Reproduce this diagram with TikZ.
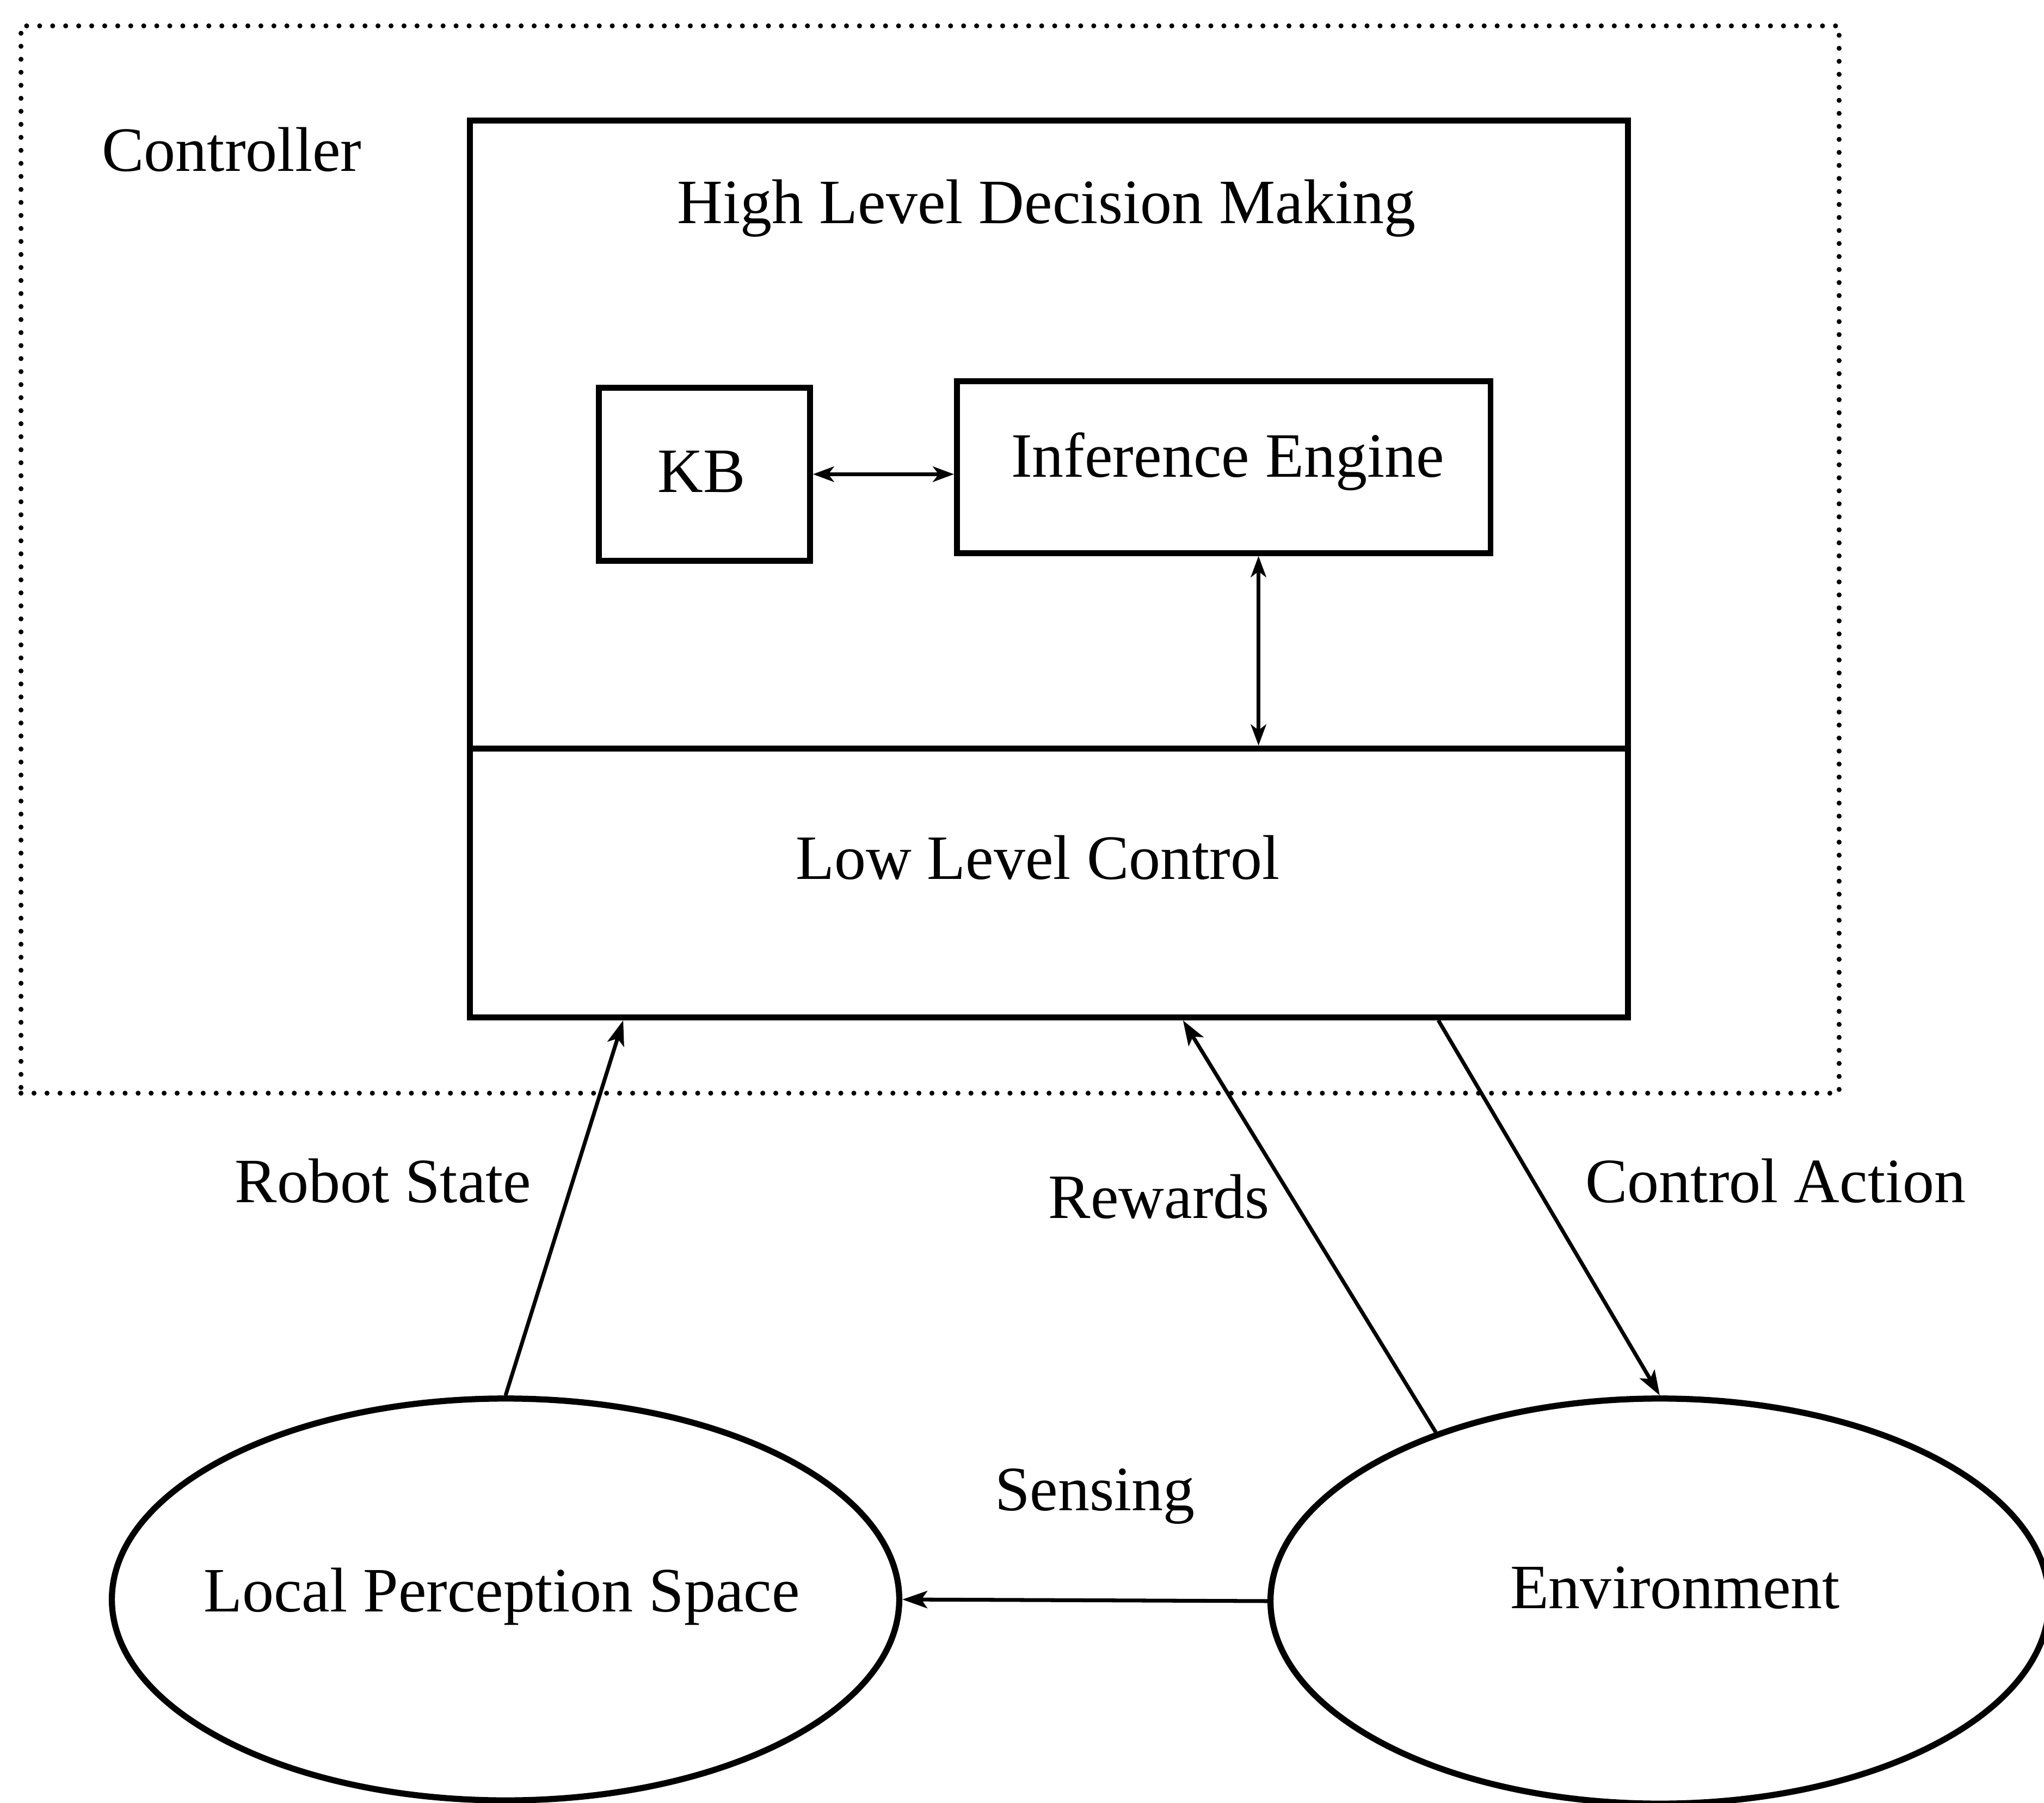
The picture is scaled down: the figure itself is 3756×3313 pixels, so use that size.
\documentclass[tikz,border=0pt]{standalone}
\usepackage{fontspec}
\setmainfont{Liberation Serif}
\usetikzlibrary{arrows.meta,shapes.geometric}
\begin{document}
\begin{tikzpicture}[x=0.01cm,y=-0.01cm,
  every node/.style={font=\fontsize{33}{40}\selectfont, inner sep=0pt},
  boxnode/.style={draw, line width=3pt, rectangle},
  ellnode/.style={draw, line width=3.2pt, ellipse},
  conn/.style={line width=2pt, -{Stealth[length=13pt,width=9pt,inset=3pt]}},
  bconn/.style={line width=2pt, {Stealth[length=11pt,width=8pt,inset=3pt]}-{Stealth[length=11pt,width=8pt,inset=3pt]}},
  dotborder/.style={draw, line width=2.6pt, line cap=round, dash pattern=on 0pt off 6.8pt}
]
\useasboundingbox (0,0) rectangle (3756,3313);
\fill[white] (0,0) rectangle (3756,3313);
% outer dotted controller border
\node[dotborder, minimum width=33.39cm, minimum height=19.6cm, anchor=north west] (ctrl) at (34,43) {};
\node (ctrltxt) at (426,275) {Controller};
% main boxes
\node[boxnode, minimum width=21.27cm, minimum height=11.54cm, anchor=north west] (hld) at (858,216) {};
\node[boxnode, minimum width=21.27cm, minimum height=4.94cm, anchor=north west] (llc) at (858,1370) {};
\node (hldtxt) at (1923,383) {High Level Decision Making};
\node (llctxt) at (1907,1576) {Low Level Control};
% inner boxes
\node[boxnode, minimum width=3.88cm, minimum height=3.18cm, anchor=north west] (kb) at (1095,707) {};
\node (kbtxt) at (1289,867) {KB};
\node[boxnode, minimum width=9.8cm, minimum height=3.16cm, anchor=north west] (ie) at (1753,695) {};
\node (ietxt) at (2256,848) {Inference Engine};
% ellipses
\node[ellnode, minimum width=14.46cm, minimum height=7.38cm] (lps) at (929,2939) {};
\node (lpstxt) at (922,2934) {Local Perception Space};
\node[ellnode, minimum width=14.3cm, minimum height=7.44cm] (env) at (3050,2942) {};
\node (envtxt) at (3078,2918) {Environment};
% labels
\node (rs) at (704,2170) {Robot State};
\node (rw) at (2130,2199) {Rewards};
\node (ca) at (3263,2170) {Control Action};
\node (se) at (2012,2750) {Sensing};
% connectors
\draw[bconn] (kb.east) -- (kb.east -| ie.west);
\draw[bconn] ([xshift=0.64cm]ie.south) -- ([xshift=0.64cm]ie.south |- llc.north);
\draw[conn] (lps.north) -- ([xshift=2.87cm]llc.south west);
\draw[conn] (env.143) -- ([xshift=13.15cm]llc.south west);
\draw[conn] ([xshift=17.84cm]llc.south west) -- (env.north);
\draw[conn] (env.west) -- (lps.east);
\end{tikzpicture}
\end{document}
